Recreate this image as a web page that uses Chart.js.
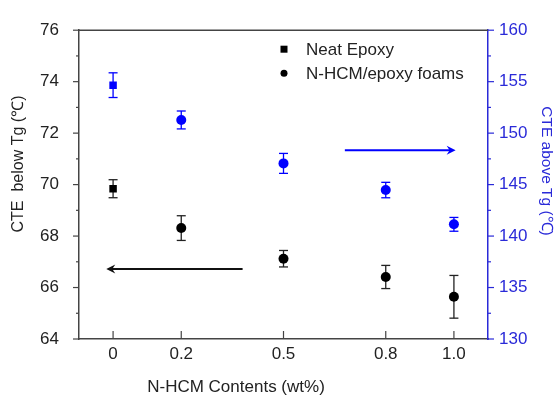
<!DOCTYPE html>
<html>
<head>
<meta charset="utf-8">
<script src="https://cdn.jsdelivr.net/npm/chart.js@4.4.0/dist/chart.umd.min.js"></script>
<style>
	html, body { margin: 0; padding: 0; background: #fff; }
	canvas { display: block; }
</style>
</head>
<body>
<canvas id="cteChart" width="555" height="396"></canvas>
<script>
// 데이터 (wt%)
const contents = [0, 0.2, 0.5, 0.8, 1.0];
const contentLabels = ['0', '0.2', '0.5', '0.8', '1.0'];

// CTE below Tg (left axis)
const belowNeat = [69.84];
const belowNeatErr = [0.35];
const belowFoam = [68.31, 67.12, 66.41, 65.64];
const belowFoamErr = [0.48, 0.32, 0.45, 0.83];

// CTE above Tg (right axis)
const aboveNeat = [154.66];
const aboveNeatErr = [1.2];
const aboveFoam = [151.28, 147.06, 144.47, 141.14];
const aboveFoamErr = [0.87, 0.97, 0.75, 0.67];

// arrows (data units)
const leftArrowX = [0.38, -0.02];
const leftArrowY = 66.72;
const rightArrowX = [0.68, 1.005];
const rightArrowY = 148.33;

const BLUE = '#0000ff';
const AXIS_BLUE = '#2a2ad8';
const FONT = "'Liberation Sans', Arial, sans-serif";

function pts(xs, ys) {
	return ys.map((y, i) => ({ x: xs[i], y: y }));
}

function line(ctx, x1, y1, x2, y2) {
	ctx.beginPath();
	ctx.moveTo(x1, y1);
	ctx.lineTo(x2, y2);
	ctx.stroke();
}

// 에러바
const errorBars = {
	id: 'errorBars',
	beforeDatasetsDraw(chart) {
		const ctx = chart.ctx;
		chart.data.datasets.forEach((ds) => {
			const yScale = chart.scales[ds.yAxisID];
			const xScale = chart.scales.x;
			ctx.save();
			ctx.strokeStyle = ds.errColor;
			ctx.lineWidth = 1.3;
			ds.data.forEach((p, j) => {
				const e = ds.errors[j];
				const x = xScale.getPixelForValue(p.x);
				const yt = yScale.getPixelForValue(p.y + e);
				const yb = yScale.getPixelForValue(p.y - e);
				line(ctx, x, yt, x, yb);
				line(ctx, x - 4.5, yt, x + 4.5, yt);
				line(ctx, x - 4.5, yb, x + 4.5, yb);
			});
			ctx.restore();
		});
	}
};

function arrow(ctx, x1, y, x2, color) {
	ctx.strokeStyle = color;
	ctx.fillStyle = color;
	ctx.lineWidth = 2;
	const dir = x2 > x1 ? 1 : -1;
	line(ctx, x1, y, x2 - dir * 4, y);
	ctx.beginPath();
	ctx.moveTo(x2, y);
	ctx.lineTo(x2 - dir * 9, y - 4.5);
	ctx.lineTo(x2 - dir * 6, y);
	ctx.lineTo(x2 - dir * 9, y + 4.5);
	ctx.closePath();
	ctx.fill();
}

// 축 장식, 제목, 범례, 화살표
const decor = {
	id: 'decor',
	afterDraw(chart) {
		const ctx = chart.ctx;
		const a = chart.chartArea;
		const sx = chart.scales.x, sy = chart.scales.y, sy2 = chart.scales.y2;
		ctx.save();

		// top frame
		ctx.strokeStyle = '#444';
		ctx.lineWidth = 1.5;
		line(ctx, a.left, a.top, a.right, a.top);

		// left ticks
		ctx.lineWidth = 1.2;
		for (let v = 64; v <= 76; v += 1) {
			const y = sy.getPixelForValue(v);
			const len = v % 2 === 0 ? 6 : 3;
			line(ctx, a.left - len, y, a.left, y);
		}
		// bottom ticks (inward)
		contents.forEach(v => {
			const x = sx.getPixelForValue(v);
			line(ctx, x, a.bottom, x, a.bottom - 8);
		});
		// right ticks
		ctx.strokeStyle = AXIS_BLUE;
		for (let v = 130; v <= 160; v += 2.5) {
			const y = sy2.getPixelForValue(v);
			const len = v % 5 === 0 ? 6 : 3;
			line(ctx, a.right, y, a.right + len, y);
		}

		// arrows
		arrow(ctx, sx.getPixelForValue(leftArrowX[0]), sy.getPixelForValue(leftArrowY),
			sx.getPixelForValue(leftArrowX[1]), '#111');
		arrow(ctx, sx.getPixelForValue(rightArrowX[0]), sy2.getPixelForValue(rightArrowY),
			sx.getPixelForValue(rightArrowX[1]), BLUE);

		// titles
		ctx.font = '16px ' + FONT;
		ctx.textAlign = 'center';
		ctx.textBaseline = 'middle';
		ctx.fillStyle = '#222';
		ctx.save();
		ctx.translate(19, 164);
		ctx.rotate(-Math.PI / 2);
		ctx.fillText('CTE  below Tg (℃)', 0, 0);
		ctx.restore();

		ctx.fillStyle = AXIS_BLUE;
		ctx.font = '15.5px ' + FONT;
		ctx.save();
		ctx.translate(546, 171);
		ctx.rotate(Math.PI / 2);
		ctx.fillText('CTE above Tg (℃)', 0, 0);
		ctx.restore();

		ctx.fillStyle = '#222';
		ctx.font = '17px ' + FONT;
		ctx.fillText('N-HCM Contents (wt%)', 236, 387);

		// legend
		const lx = a.left + 205;
		ctx.textAlign = 'left';
		ctx.fillStyle = '#000';
		ctx.fillRect(lx - 3.5, a.top + 19 - 3.5, 7, 7);
		ctx.beginPath();
		ctx.arc(lx, a.top + 43, 3.5, 0, Math.PI * 2);
		ctx.fill();
		ctx.fillStyle = '#222';
		ctx.fillText('Neat Epoxy', lx + 22, a.top + 20);
		ctx.fillText('N-HCM/epoxy foams', lx + 22, a.top + 44);

		ctx.restore();
	}
};

const chart = new Chart(document.getElementById('cteChart').getContext('2d'), {
	type: 'scatter',
	data: {
		datasets: [
			{
				label: 'Neat Epoxy',
				data: pts(contents.slice(0, 1), belowNeat),
				errors: belowNeatErr,
				errColor: '#222',
				yAxisID: 'y',
				pointStyle: 'rect',
				pointRadius: 5.3,
				backgroundColor: '#000',
				borderWidth: 0
			},
			{
				label: 'N-HCM/epoxy foams',
				data: pts(contents.slice(1), belowFoam),
				errors: belowFoamErr,
				errColor: '#222',
				yAxisID: 'y',
				pointStyle: 'circle',
				pointRadius: 5,
				backgroundColor: '#000',
				borderWidth: 0
			},
			{
				label: 'Neat Epoxy (above Tg)',
				data: pts(contents.slice(0, 1), aboveNeat),
				errors: aboveNeatErr,
				errColor: BLUE,
				yAxisID: 'y2',
				pointStyle: 'rect',
				pointRadius: 5.3,
				backgroundColor: BLUE,
				borderWidth: 0
			},
			{
				label: 'N-HCM/epoxy foams (above Tg)',
				data: pts(contents.slice(1), aboveFoam),
				errors: aboveFoamErr,
				errColor: BLUE,
				yAxisID: 'y2',
				pointStyle: 'circle',
				pointRadius: 5,
				backgroundColor: BLUE,
				borderWidth: 0
			}
		]
	},
	options: {
		responsive: false,
		animation: false,
		layout: { padding: { top: 25, left: 0, right: 0, bottom: 0 } },
		plugins: {
			legend: { display: false },
			tooltip: { enabled: false }
		},
		scales: {
			x: {
				type: 'linear',
				min: -0.1,
				max: 1.1,
				afterBuildTicks: s => { s.ticks = contents.map(v => ({ value: v })); },
				afterFit: s => { s.height = 57; },
				grid: { drawOnChartArea: false, drawTicks: false },
				border: { display: true, color: '#444', width: 1.5 },
				ticks: {
					padding: 5,
					color: '#222',
					font: { family: FONT, size: 17 },
					callback: (v, i) => contentLabels[i]
				}
			},
			y: {
				position: 'left',
				min: 64,
				max: 76,
				afterFit: s => { s.width = 79; },
				grid: { drawOnChartArea: false, drawTicks: false },
				border: { display: true, color: '#444', width: 1.5 },
				ticks: {
					stepSize: 2,
					padding: 20,
					color: '#222',
					font: { family: FONT, size: 17 }
				}
			},
			y2: {
				position: 'right',
				min: 130,
				max: 160,
				afterFit: s => { s.width = 67; },
				grid: { drawOnChartArea: false, drawTicks: false },
				border: { display: true, color: AXIS_BLUE, width: 1.5 },
				ticks: {
					stepSize: 5,
					padding: 11,
					color: AXIS_BLUE,
					font: { family: FONT, size: 17 }
				}
			}
		}
	},
	plugins: [errorBars, decor]
});
</script>
</body>
</html>
